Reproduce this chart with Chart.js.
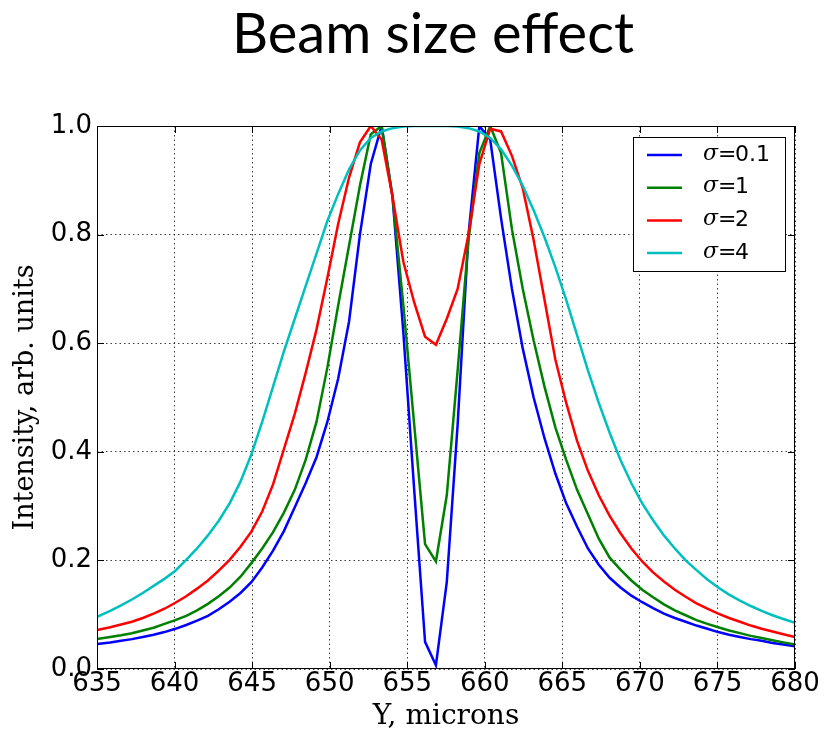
<!DOCTYPE html>
<html>
<head>
<meta charset="utf-8">
<title>Beam size effect</title>
<script src="https://cdn.jsdelivr.net/npm/chart.js@4.4.1/dist/chart.umd.min.js"></script>
<style>
  html, body { margin: 0; padding: 0; background: #fff; }
  #wrap { width: 827px; height: 731px; }
</style>
</head>
<body>
<div id="wrap"><canvas id="beamChart" width="827" height="731"></canvas></div>
<script>
// sample positions, microns
const yMicrons = [635.0, 635.85, 636.55, 637.25, 637.95, 638.65, 639.35, 640.05, 640.75, 641.45,
  642.15, 642.85, 643.55, 644.25, 644.95, 645.65, 646.35, 647.05, 647.75, 648.45,
  649.15, 649.85, 650.55, 651.25, 651.95, 652.65, 653.35, 654.05, 654.75, 655.45,
  656.15, 656.85, 657.55, 658.25, 658.95, 659.65, 660.35, 661.05, 661.75, 662.45,
  663.15, 663.85, 664.55, 665.25, 665.95, 666.65, 667.35, 668.05, 668.75, 669.45,
  670.15, 670.85, 671.55, 672.25, 672.95, 673.65, 674.35, 675.05, 675.75, 676.45,
  677.15, 677.85, 678.55, 679.25, 680.0];

// intensity, arb. units
const sigma01 = [0.046, 0.049, 0.052, 0.055, 0.059, 0.063, 0.068, 0.074, 0.081, 0.089,
  0.098, 0.110, 0.124, 0.140, 0.160, 0.187, 0.218, 0.254, 0.298, 0.342,
  0.39, 0.455, 0.535, 0.64, 0.80, 0.93, 1.0, 0.87, 0.62, 0.33,
  0.05, 0.007, 0.16, 0.45, 0.80, 1.0, 0.975, 0.83, 0.70, 0.59,
  0.50, 0.425, 0.36, 0.305, 0.262, 0.222, 0.192, 0.168, 0.150, 0.135,
  0.123, 0.112, 0.102, 0.094, 0.087, 0.080, 0.074, 0.068, 0.063, 0.059,
  0.055, 0.052, 0.048, 0.045, 0.042];

const sigma1 = [0.055, 0.059, 0.062, 0.066, 0.071, 0.076, 0.083, 0.090, 0.098, 0.108,
  0.120, 0.134, 0.150, 0.170, 0.195, 0.222, 0.252, 0.288, 0.33, 0.385,
  0.455, 0.555, 0.67, 0.78, 0.89, 0.985, 1.0, 0.87, 0.67, 0.45,
  0.23, 0.198, 0.32, 0.55, 0.79, 0.95, 1.0, 0.95, 0.81, 0.70,
  0.605, 0.52, 0.445, 0.385, 0.33, 0.285, 0.24, 0.205, 0.183, 0.163,
  0.146, 0.132, 0.119, 0.108, 0.099, 0.090, 0.083, 0.077, 0.071, 0.066,
  0.061, 0.057, 0.053, 0.049, 0.045];

const sigma2 = [0.072, 0.077, 0.082, 0.087, 0.094, 0.102, 0.111, 0.122, 0.134, 0.148,
  0.163, 0.181, 0.201, 0.225, 0.253, 0.29, 0.34, 0.405, 0.47, 0.545,
  0.625, 0.72, 0.82, 0.905, 0.97, 1.0, 0.975, 0.87, 0.75, 0.675,
  0.612, 0.597, 0.645, 0.70, 0.80, 0.93, 0.995, 0.99, 0.945, 0.885,
  0.79, 0.68, 0.57, 0.49, 0.42, 0.365, 0.32, 0.282, 0.25, 0.222,
  0.198, 0.178, 0.161, 0.146, 0.133, 0.121, 0.111, 0.102, 0.094, 0.087,
  0.080, 0.074, 0.069, 0.064, 0.059];

const sigma4 = [0.096, 0.107, 0.117, 0.128, 0.140, 0.153, 0.166, 0.181, 0.201, 0.222,
  0.246, 0.273, 0.305, 0.345, 0.395, 0.455, 0.52, 0.585, 0.645, 0.705,
  0.765, 0.825, 0.875, 0.92, 0.955, 0.978, 0.99, 0.996, 0.999, 1.0,
  1.0, 1.0, 1.0, 0.999, 0.996, 0.99, 0.978, 0.957, 0.927, 0.89,
  0.845, 0.795, 0.74, 0.68, 0.615, 0.55, 0.49, 0.435, 0.385, 0.342,
  0.305, 0.274, 0.246, 0.222, 0.2, 0.182, 0.165, 0.150, 0.137, 0.126,
  0.116, 0.107, 0.099, 0.092, 0.085];

const sigmaLabels = ["0.1", "1", "2", "4"];
const seriesColors = ["#0000ff", "#008000", "#ff0000", "#00bfbf"];
const allSeries = [sigma01, sigma1, sigma2, sigma4];

const titleText = "Beam size effect";
const xAxisLabel = "Y, microns";
const yAxisLabel = "Intensity, arb. units";

const toPoints = (ys) => ys.map((v, i) => ({ x: yMicrons[i], y: v }));

// title, frame, inward ticks and legend, drawn the matplotlib way
const beamDecor = {
  id: "beamDecor",
  afterDraw(chart) {
    const { ctx, chartArea: a } = chart;
    const xs = chart.scales.x, ys = chart.scales.y;
    ctx.save();

    // title
    ctx.fillStyle = "#000";
    ctx.font = "56px Lato";
    ctx.textAlign = "center";
    ctx.textBaseline = "alphabetic";
    ctx.fillText(titleText, 433, 53);

    // ticks pointing inwards on all four sides
    ctx.strokeStyle = "#000";
    ctx.lineWidth = 1;
    ctx.beginPath();
    xs.ticks.forEach((t) => {
      const px = Math.round(xs.getPixelForValue(t.value)) + 0.5;
      ctx.moveTo(px, a.bottom); ctx.lineTo(px, a.bottom - 7);
      ctx.moveTo(px, a.top); ctx.lineTo(px, a.top + 7);
    });
    ys.ticks.forEach((t) => {
      const py = Math.round(ys.getPixelForValue(t.value)) + 0.5;
      ctx.moveTo(a.left, py); ctx.lineTo(a.left + 7, py);
      ctx.moveTo(a.right, py); ctx.lineTo(a.right - 7, py);
    });
    ctx.stroke();

    // frame
    ctx.strokeRect(a.left + 0.5, a.top + 0.5, a.right - a.left - 1, a.bottom - a.top - 1);

    // legend box, upper right
    const lw = 152, lh = 134;
    const lx = a.right - 10 - lw, ly = a.top + 11;
    ctx.fillStyle = "#fff";
    ctx.fillRect(lx, ly, lw, lh);
    ctx.strokeStyle = "#000";
    ctx.strokeRect(lx + 0.5, ly + 0.5, lw, lh);

    chart.data.datasets.forEach((ds, i) => {
      const ry = ly + 18 + i * 32.7;
      ctx.strokeStyle = ds.borderColor;
      ctx.lineWidth = 2.5;
      ctx.beginPath();
      ctx.moveTo(lx + 14, ry);
      ctx.lineTo(lx + 49, ry);
      ctx.stroke();

      ctx.fillStyle = "#000";
      ctx.textAlign = "left";
      ctx.textBaseline = "middle";
      ctx.font = "italic 22px 'DejaVu Serif'";
      ctx.fillText("\u03c3", lx + 70, ry - 1);
      ctx.font = "22px 'DejaVu Sans'";
      ctx.fillText("=", lx + 85, ry);
      ctx.fillText(sigmaLabels[i], lx + 102, ry);
    });

    ctx.restore();
  },
};

const ctx = document.getElementById("beamChart").getContext("2d");
const chart = new Chart(ctx, {
  type: "line",
  data: {
    datasets: allSeries.map((s, i) => ({
      label: "\u03c3=" + sigmaLabels[i],
      data: toPoints(s),
      borderColor: seriesColors[i],
      backgroundColor: seriesColors[i],
      borderWidth: 2.5,
      pointRadius: 0,
      tension: 0,
      fill: false,
      clip: 0,
      order: 3 - i, // later series on top, like matplotlib
    })),
  },
  plugins: [beamDecor],
  options: {
    responsive: false,
    animation: false,
    devicePixelRatio: 1,
    layout: { padding: { top: 126, right: 32, left: 0, bottom: 0 } },
    plugins: {
      legend: { display: false },
      title: { display: false },
      tooltip: { enabled: false },
    },
    scales: {
      x: {
        type: "linear",
        min: 635,
        max: 680,
        afterFit: (scale) => { scale.height = 62; },
        ticks: {
          stepSize: 5,
          autoSkip: false,
          maxRotation: 0,
          padding: 0,
          color: "#000",
          font: { family: "DejaVu Sans", size: 26 },
        },
        grid: { color: "rgba(0,0,0,0.75)", lineWidth: 1, drawTicks: false },
        border: { display: false, dash: [1.5, 3] },
        title: {
          display: true,
          text: xAxisLabel,
          color: "#000",
          font: { family: "DejaVu Serif", size: 28, lineHeight: 1 },
          padding: { top: 0, bottom: 0 },
        },
      },
      y: {
        min: 0,
        max: 1,
        afterFit: (scale) => { scale.width = 97; },
        ticks: {
          stepSize: 0.2,
          padding: 5,
          color: "#000",
          font: { family: "DejaVu Sans", size: 26 },
          callback: (v) => v.toFixed(1),
        },
        grid: { color: "rgba(0,0,0,0.75)", lineWidth: 1, drawTicks: false },
        border: { display: false, dash: [1.5, 3] },
        title: {
          display: true,
          text: yAxisLabel,
          color: "#000",
          font: { family: "DejaVu Serif", size: 27, lineHeight: 1.2 },
          padding: { top: 10, bottom: 0 },
        },
      },
    },
  },
});
</script>
</body>
</html>
